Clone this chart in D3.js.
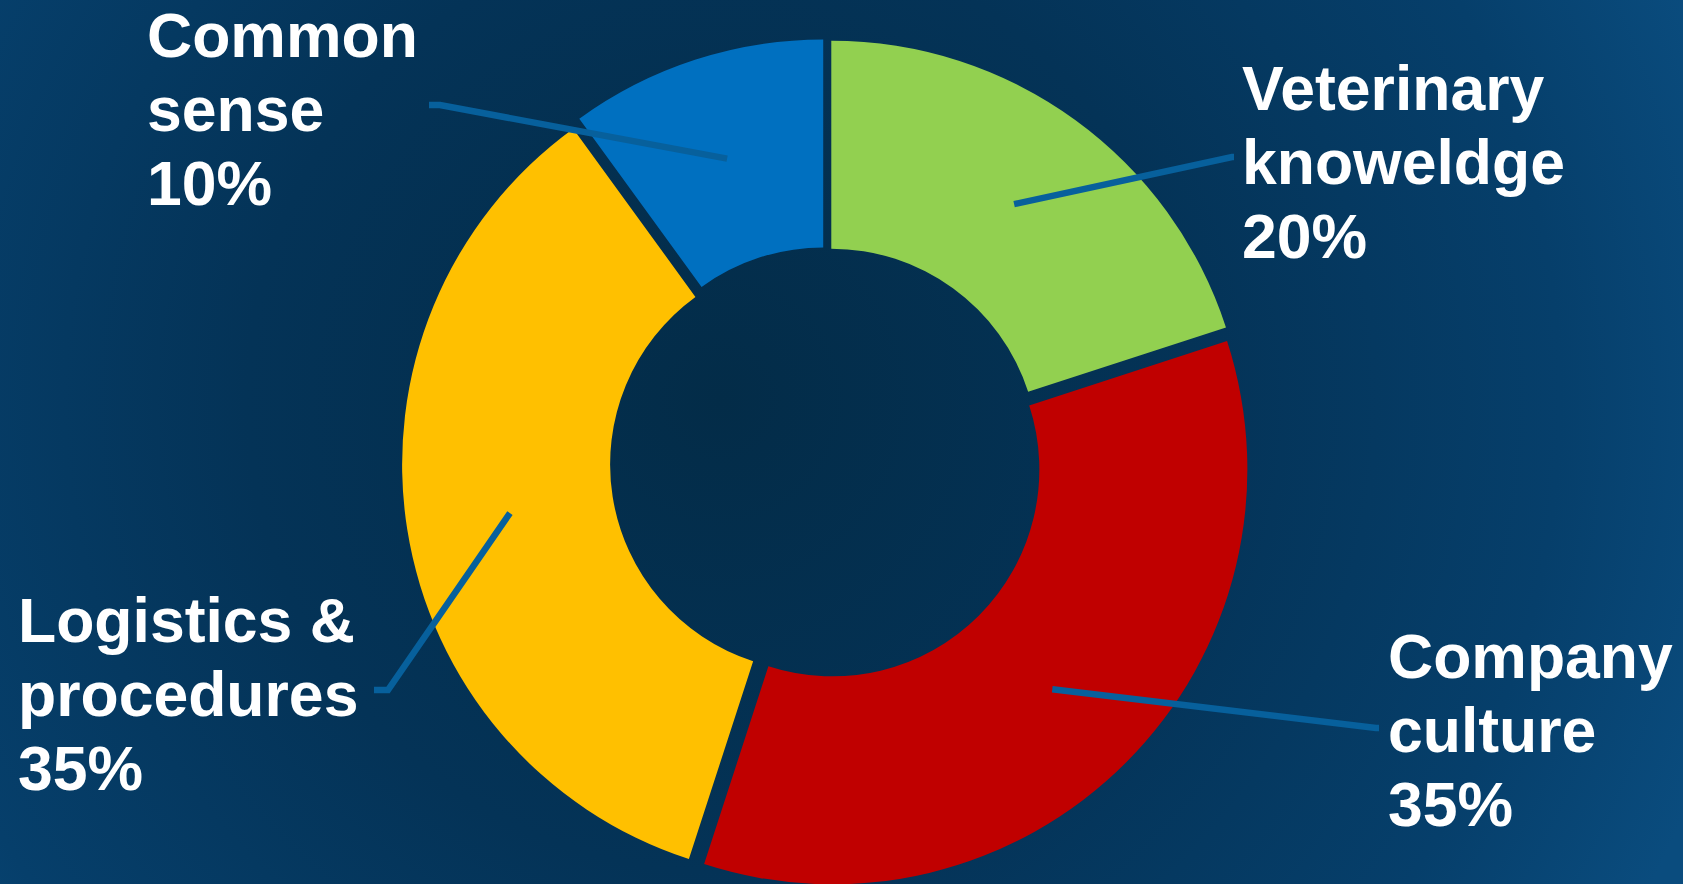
<!DOCTYPE html>
<html lang="en">
<head>
<meta charset="UTF-8">
<script src="https://d3js.org/d3.v7.min.js"></script>
<title>Doughnut</title>
<style>
  html, body { margin: 0; padding: 0; overflow: hidden; }
  body { width: 1683px; height: 884px; }
</style>
</head>
<body>
<div id="chart"></div>
<script>
  // Data
  const categories = ['Common sense', 'Veterinary knoweldge', 'Company culture', 'Logistics & procedures'];
  const values = [10, 20, 35, 35];
  const colors = ['#0070c0', '#92d050', '#c00000', '#ffc000'];
  // label lines (text) per category
  const labelLines = [
    ['Common', 'sense', '10%'],
    ['Veterinary', 'knoweldge', '20%'],
    ['Company', 'culture', '35%'],
    ['Logistics &', 'procedures', '35%']
  ];

  //Variable
  const width = 1683;
  const height = 884;
  const cx = 826, cy = 463;
  const outerR = 415, innerR = 207;
  const explode = 9;
  const fontSize = 62.5;
  const lineH = 74;
  const startDeg = -36;
  // label anchor (first baseline) and leader line end points
  const labelPos = [[147, 57], [1242, 110], [1388, 678], [18, 642]];
  const leaderEnds = [
    [[440, 105], [429, 105]],
    [[1232, 157], [1234, 157]],
    [[1376, 728], [1379, 728]],
    [[388, 690], [374, 690]]
  ];

  const svg = d3.select('#chart')
    .append('svg')
    .attr('width', width)
    .attr('height', height);

  //-Background
  const defs = svg.append('defs');
  const grad = defs.append('radialGradient')
    .attr('id', 'bg')
    .attr('gradientUnits', 'userSpaceOnUse')
    .attr('cx', 720).attr('cy', 400).attr('r', 1050);
  grad.append('stop').attr('offset', '0').attr('stop-color', '#032c48');
  grad.append('stop').attr('offset', '0.45').attr('stop-color', '#043357');
  grad.append('stop').attr('offset', '0.8').attr('stop-color', '#063f6b');
  grad.append('stop').attr('offset', '1').attr('stop-color', '#0a4c7e');
  svg.append('rect')
    .attr('width', width)
    .attr('height', height)
    .attr('fill', 'url(#bg)');

  //-Arcs
  const rad = startDeg * Math.PI / 180;
  const pie = d3.pie().sort(null).value(d => d)
    .startAngle(rad).endAngle(rad + 2 * Math.PI);
  const arcs = pie(values);
  const arc = d3.arc().innerRadius(innerR).outerRadius(outerR);
  const mid = d => (d.startAngle + d.endAngle) / 2;
  const offset = d => [Math.sin(mid(d)) * explode, -Math.cos(mid(d)) * explode];

  const g = svg.append('g').attr('transform', `translate(${cx},${cy})`);
  g.selectAll('path.slice')
    .data(arcs)
    .enter()
    .append('path')
    .attr('class', 'slice')
    .attr('d', arc)
    .attr('transform', d => `translate(${offset(d)[0]},${offset(d)[1]})`)
    .attr('fill', (d, i) => colors[i]);

  //-Leader lines
  svg.selectAll('path.leader')
    .data(arcs)
    .enter()
    .append('path')
    .attr('class', 'leader')
    .attr('d', (d, i) => {
      const c = arc.centroid(d);
      const o = offset(d);
      const start = [cx + c[0] + o[0], cy + c[1] + o[1]];
      return d3.line()([start, ...leaderEnds[i]]);
    })
    .attr('fill', 'none')
    .attr('stroke', '#07609c')
    .attr('stroke-width', 6.5);

  //-Labels
  labelLines.forEach((lines, i) => {
    const t = svg.append('text')
      .attr('x', labelPos[i][0])
      .attr('y', labelPos[i][1])
      .attr('fill', '#ffffff')
      .style('font-family', '"Liberation Sans", Arial, sans-serif')
      .style('font-weight', 'bold')
      .style('font-size', fontSize + 'px');
    t.selectAll('tspan')
      .data(lines)
      .enter()
      .append('tspan')
      .attr('x', labelPos[i][0])
      .attr('dy', (d, j) => j === 0 ? 0 : lineH)
      .text(d => d);
  });
</script>
</body>
</html>
